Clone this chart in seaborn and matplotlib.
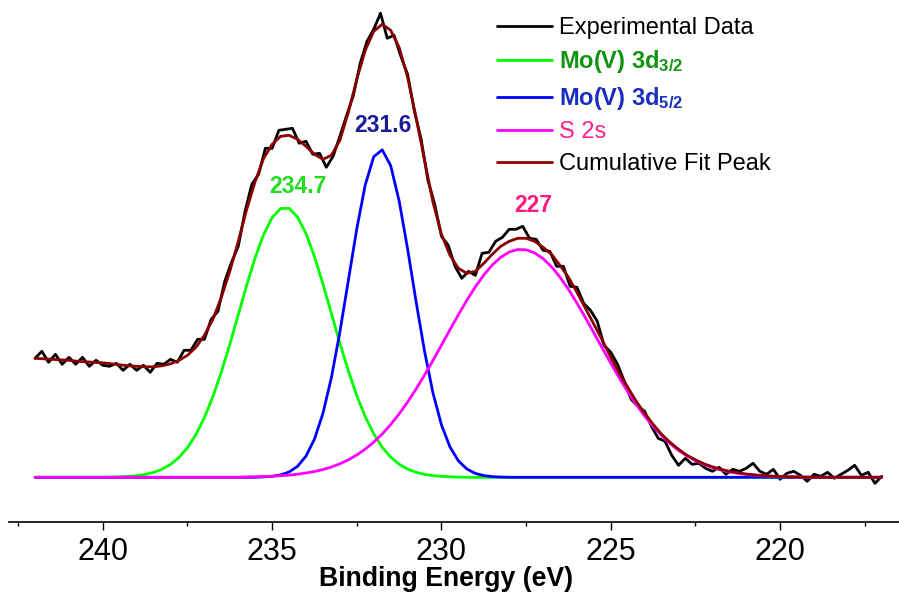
import numpy as np
import pandas as pd
import matplotlib
matplotlib.use("Agg")
import matplotlib.pyplot as plt
from matplotlib.ticker import MultipleLocator
import seaborn as sns

# ---------------- data (intensity in arbitrary units) ----------------
energy_fit = np.round(np.arange(242.0, 216.99, -0.25), 2)   # binding energy grid of the fit curves

cumulative = [119, 118.5, 118, 117.5, 117, 116, 115.5, 115, 114.5, 113.5,
              112.5, 111.5, 111, 110.5, 110.5, 111.5, 113.5, 117, 122, 130,
              142, 158, 180, 206, 236, 268, 296, 319, 333, 341,
              342, 338, 331, 323, 318, 322, 337, 365, 398, 427,
              446, 453, 447, 430, 400, 360, 317, 275, 243, 222,
              209, 204, 206, 214, 223, 231, 236, 239, 239, 236,
              230, 223, 212, 200, 185, 169, 153, 137, 120, 104,
              90, 76, 64, 53, 43, 35, 28, 22, 17.5, 13.5,
              10.5, 8, 6, 4.5, 3.3, 2.4, 1.7, 1.2, 0.8, 0.5,
              0.3, 0.2, 0.1, 0, 0, 0, 0, 0, 0, 0, 0]

mo_3d32 = [0] * 9 + [0.2, 0.5, 0.9, 1.6, 2.9, 4.9, 8.1, 12.9, 19.9, 29.6,
                     42.8, 59.7, 80.6, 105.3, 133.0, 162.6, 192.2, 219.7, 242.9, 259.8,
                     268.8, 269.0, 260.3, 243.7, 220.7, 193.3, 163.8, 134.2, 106.4, 81.5,
                     60.5, 43.4, 30.1, 20.2, 13.1, 8.2, 5.0, 2.9, 1.7, 0.9,
                     0.5, 0.2] + [0] * 50

mo_3d52 = [0] * 27 + [0.4, 1.0, 2.4, 5.3, 11.0, 21.2, 38.2, 63.9, 99.8, 145.2,
                      196.8, 248.6, 292.5, 320.6, 327.5, 311.7, 276.4, 228.4, 175.8, 126.1,
                      84.2, 52.4, 30.4, 16.4, 8.3, 3.9, 1.7, 0.7, 0.2] + [0] * 45

s_2s = [0] * 25 + [0.4, 0.5, 0.8, 1.1, 1.6, 2.2, 3.1, 4.3, 5.8, 7.8,
                   10.3, 13.5, 17.5, 22.3, 28.2, 35.2, 43.3, 52.8, 63.4, 75.3,
                   88.3, 102.2, 116.9, 132.2, 147.5, 162.6, 177.1, 190.4, 202.3, 212.3,
                   220.0, 225.3, 227.8, 227.5, 224.4, 218.7, 210.5, 200.1, 187.9, 174.2,
                   159.6, 144.4, 129.1, 114.0, 99.4, 85.6, 72.8, 61.2, 50.8, 41.6,
                   33.7, 26.9, 21.3, 16.6, 12.8, 9.7, 7.3, 5.4, 4.0, 2.9,
                   2.1, 1.5, 1.0, 0.7, 0.5, 0.3] + [0] * 10

energy_exp = np.round(np.arange(242.0, 216.99, -0.2), 2)   # measured binding energies

experimental = [119, 126, 115, 123, 113, 120, 113, 120, 111, 117,
                112, 111, 114, 107, 113, 107, 112, 105, 114, 113,
                118, 115, 127, 127, 138, 138, 158, 166, 196, 215,
                231, 266, 293, 303, 329, 329, 347, 348, 349, 334,
                336, 323, 324, 310, 321, 341, 362, 382, 414, 436,
                448, 464, 439, 442, 421, 403, 366, 338, 297, 273,
                241, 232, 211, 199, 206, 202, 224, 225, 236, 240,
                248, 248, 251, 239, 238, 227, 226, 211, 211, 191,
                190, 174, 167, 156, 132, 125, 113, 96, 78, 71,
                66, 51, 39, 36, 22, 12, 19, 13, 14, 9,
                6, 10, 3, 8, 6, 9, 14, 6, 3, 8,
                -2, 4, 6, 2, -4, 3, 1, 5, -1, 3,
                7, 12, 2, 5, -6, 1]

series_names = ["Experimental Data", "Mo(V) 3d$_\\mathbf{3/2}$", "Mo(V) 3d$_\\mathbf{5/2}$",
                "S 2s", "Cumulative Fit Peak"]
peak_labels = ["234.7", "231.6", "227"]
x_ticks = [240, 235, 230, 225, 220]

# ---------------- style ----------------
sns.set_theme(style="white")
plt.rcParams["font.family"] = ["Liberation Sans", "DejaVu Sans"]
plt.rcParams["mathtext.fontset"] = "custom"
plt.rcParams["mathtext.rm"] = "Liberation Sans"
plt.rcParams["mathtext.bf"] = "Liberation Sans:bold"
plt.rcParams["mathtext.it"] = "Liberation Sans:italic"
plt.rcParams["text.color"] = "black"
plt.rcParams["axes.labelcolor"] = "black"
plt.rcParams["xtick.color"] = "black"
plt.rcParams["xtick.labelcolor"] = "black"

fig = plt.figure(figsize=(8.99, 5.95), dpi=100)
ax = fig.add_axes([9 / 899, (595 - 521.7) / 595, 890 / 899, 515.7 / 595])

exp_df = pd.DataFrame({"E": energy_exp, "I": experimental})
fit_df = pd.DataFrame({"E": energy_fit, "cum": cumulative, "g": mo_3d32,
                       "b": mo_3d52, "m": s_2s})

lw = 2.0
sns.lineplot(data=exp_df, x="E", y="I", ax=ax, color="black", linewidth=lw,
             estimator=None, label=series_names[0], zorder=2)
sns.lineplot(data=fit_df, x="E", y="g", ax=ax, color="#00ff00", linewidth=lw,
             estimator=None, label=series_names[1], zorder=3)
sns.lineplot(data=fit_df, x="E", y="b", ax=ax, color="#0000ff", linewidth=lw,
             estimator=None, label=series_names[2], zorder=4)
sns.lineplot(data=fit_df, x="E", y="m", ax=ax, color="#ff00ff", linewidth=lw,
             estimator=None, label=series_names[3], zorder=5)
sns.lineplot(data=fit_df, x="E", y="cum", ax=ax, color="#8b0000", linewidth=lw,
             estimator=None, label=series_names[4], zorder=6)

ax.set_xlim(242.77, 216.49)
ax.set_ylim(-44.4, 471.3)

for s in ["left", "right", "top"]:
    ax.spines[s].set_visible(False)
ax.spines["bottom"].set_color("black")
ax.spines["bottom"].set_linewidth(1.2)

ax.set_xticks(x_ticks)
ax.xaxis.set_minor_locator(MultipleLocator(2.5))
ax.tick_params(axis="x", which="major", direction="out", length=6, width=1.0,
               color="black", labelcolor="black", labelsize=22, pad=5, bottom=True)
ax.tick_params(axis="x", which="minor", direction="out", length=3, width=1.0,
               color="black", bottom=True)
ax.set_yticks([])
ax.set_ylabel("")
ax.set_xlabel("Binding Energy (eV)", fontsize=19.2, fontweight="bold",
              labelpad=-1, color="black")
ax.xaxis.label.set_x((446 - 9) / 890)

# peak position labels
ax.text(234.24, 290.6, peak_labels[0], color="#22dd22", fontsize=16.5,
        fontweight="bold", ha="center", va="center")
ax.text(231.73, 352.3, peak_labels[1], color="#1a1a99", fontsize=16.5,
        fontweight="bold", ha="center", va="center")
ax.text(227.30, 272.3, peak_labels[2], color="#ff1a80", fontsize=16.5,
        fontweight="bold", ha="center", va="center")

# legend
handles, labels = ax.get_legend_handles_labels()
leg = ax.legend(handles, labels, loc="upper left",
                bbox_to_anchor=(496.7 / 899, 1 - 17 / 595),
                bbox_transform=fig.transFigure, frameon=False, fontsize=17,
                handlelength=2.33, handletextpad=0.3, labelspacing=0.4,
                borderpad=0, borderaxespad=0)
txt_colors = ["black", "#109410", "#1a2ebd", "#ff2288", "black"]
txt_weights = ["normal", "bold", "bold", "normal", "normal"]
for t, c, w in zip(leg.get_texts(), txt_colors, txt_weights):
    t.set_color(c)
    t.set_fontweight(w)
for h in leg.legend_handles:
    h.set_linewidth(2.0)

fig.savefig("out.png", dpi=100)
